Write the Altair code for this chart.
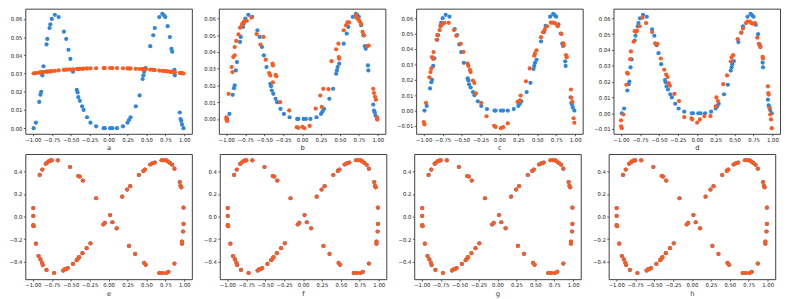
import altair as alt
import pandas as pd

# ---------------- top row (a-d) ----------------
top_x = [-0.99, -0.96, -0.917, -0.90, -0.89, -0.875, -0.86, -0.82, -0.81, -0.78,
         -0.77, -0.75, -0.71, -0.66, -0.59, -0.56, -0.53, -0.505, -0.47, -0.42,
         -0.41, -0.40, -0.38, -0.35, -0.33, -0.285, -0.24, -0.165, -0.065, -0.05,
         0.02, 0.05, 0.11, 0.19, 0.25, 0.27, 0.29, 0.36, 0.41, 0.45,
         0.46, 0.47, 0.49, 0.55, 0.59, 0.61, 0.67, 0.71, 0.73, 0.75,
         0.78, 0.81, 0.83, 0.84, 0.87, 0.875, 0.94, 0.95, 0.96, 0.97, 0.99]
top_blue = [0, 0.003, 0.0144, 0.0184, 0.020, 0.029, 0.034, 0.046, 0.049, 0.055,
            0.057, 0.060, 0.0622, 0.061, 0.053, 0.049, 0.043, 0.038, 0.031, 0.021,
            0.0196, 0.017, 0.015, 0.012, 0.010, 0.006, 0.003, 0.001, 0, 0,
            0, 0, 0, 0.001, 0.003, 0.0045, 0.006, 0.012, 0.018, 0.027,
            0.029, 0.031, 0.033, 0.045, 0.051, 0.055, 0.061, 0.0628, 0.062, 0.061,
            0.056, 0.050, 0.0435, 0.042, 0.032, 0.029, 0.0086, 0.005, 0.004, 0.002, 0]
a_orange = [0.0301, 0.0302, 0.0305, 0.0306, 0.0306, 0.0307, 0.0308, 0.0310, 0.0310, 0.0312,
            0.0312, 0.0313, 0.0315, 0.0317, 0.0320, 0.0321, 0.0322, 0.0322, 0.0323, 0.0325,
            0.0325, 0.0325, 0.0326, 0.0326, 0.0327, 0.0328, 0.0328, 0.0329, 0.0330, 0.0330,
            0.0330, 0.0330, 0.0330, 0.0329, 0.0328, 0.0328, 0.0327, 0.0326, 0.0325, 0.0324,
            0.0324, 0.0323, 0.0323, 0.0321, 0.0320, 0.0319, 0.0316, 0.0315, 0.0314, 0.0313,
            0.0312, 0.0310, 0.0309, 0.0309, 0.0307, 0.0307, 0.0303, 0.0303, 0.0302, 0.0302, 0.0300]

b_x = [-1.0, -1.0, -0.99, -0.97, -0.93, -0.92, -0.91, -0.89, -0.89, -0.87,
       -0.84, -0.82, -0.80, -0.79, -0.77, -0.745, -0.73, -0.67, -0.60, -0.55,
       -0.51, -0.48, -0.435, -0.42, -0.39, -0.385, -0.35, -0.34, -0.385, -0.29,
       -0.17, -0.07, -0.05, 0.004, 0.03, 0.10, 0.18, 0.24, 0.26, 0.28,
       0.35, 0.39, 0.45, 0.48, 0.485, 0.49, 0.55, 0.58, 0.60, 0.62,
       0.71, 0.72, 0.74, 0.76, 0.78, 0.80, 0.82, 0.86, 0.88, 0.94,
       0.95, 0.965, 0.975, 0.99, 0.995]
b_y = [0.001, -0.0004, -0.0013, 0.015, 0.031, 0.028, 0.037, 0.038, 0.043, 0.0466,
       0.0505, 0.0545, 0.0555, 0.057, 0.058, 0.0587, 0.0587, 0.0606, 0.0507, 0.0445,
       0.049, 0.0354, 0.0274, 0.026, 0.033, 0.032, 0.0263, 0.0255, 0.0218, 0.010,
       0.0051, -0.0049, -0.0053, -0.0047, -0.0055, -0.0042, 0.0062, 0.014, 0.0072, 0.018,
       0.0178, 0.0345, 0.0416, 0.045, 0.037, 0.036, 0.053, 0.056, 0.0577, 0.0577,
       0.062, 0.0605, 0.0596, 0.0583, 0.0568, 0.052, 0.050, 0.0435, 0.0439, 0.018,
       0.0155, 0.0132, 0.0114, 0.0009, -0.0004]

c_x = [-1.0, -0.99, -0.97, -0.925, -0.91, -0.90, -0.89, -0.875, -0.87, -0.83,
       -0.82, -0.79, -0.775, -0.76, -0.725, -0.67, -0.60, -0.57, -0.51, -0.475,
       -0.42, -0.41, -0.39, -0.38, -0.35, -0.33, -0.31, -0.24, -0.17, -0.07,
       -0.05, 0.02, 0.05, 0.11, 0.24, 0.27, 0.28, 0.35, 0.40, 0.46,
       0.47, 0.49, 0.55, 0.575, 0.60, 0.63, 0.68, 0.70, 0.73, 0.76,
       0.77, 0.82, 0.845, 0.85, 0.88, 0.89, 0.945, 0.95, 0.965, 0.98, 0.99]
c_y = [-0.0075, -0.009, 0.005, 0.0216, 0.025, 0.0274, 0.0347, 0.0335, 0.038, 0.046,
       0.049, 0.0523, 0.055, 0.056, 0.057, 0.057, 0.0523, 0.0486, 0.0434, 0.0382,
       0.0305, 0.029, 0.0264, 0.025, 0.0195, 0.0179, 0.0112, 0.005, -0.0037, -0.0099,
       -0.0106, -0.0114, -0.0108, -0.0083, 0.0056, 0.0066, 0.0098, 0.019, 0.0274, 0.0357,
       0.0371, 0.0392, 0.0477, 0.0509, 0.0527, 0.0548, 0.0571, 0.0571, 0.0569, 0.0558,
       0.0548, 0.0498, 0.0436, 0.0423, 0.036, 0.0347, 0.0137, 0.0083, 0.0056, -0.005, -0.0079]

d_x = [-1.0, -1.0, -0.99, -0.97, -0.93, -0.92, -0.91, -0.88, -0.87, -0.835,
       -0.82, -0.80, -0.79, -0.755, -0.715, -0.67, -0.59, -0.55, -0.52, -0.475,
       -0.43, -0.405, -0.385, -0.37, -0.355, -0.295, -0.235, -0.165, -0.07, -0.06,
       0.006, 0.04, 0.10, 0.18, 0.25, 0.26, 0.28, 0.35, 0.40, 0.45,
       0.46, 0.48, 0.54, 0.585, 0.61, 0.65, 0.67, 0.70, 0.72, 0.745,
       0.77, 0.80, 0.82, 0.84, 0.87, 0.875, 0.94, 0.945, 0.95, 0.96,
       0.97, 0.98, 0.99]
d_y = [-0.0045, -0.0082, -0.0094, -0.0008, 0.018, 0.0255, 0.025, 0.0342, 0.0391, 0.0452,
       0.0519, 0.0515, 0.0523, 0.055, 0.0604, 0.057, 0.0513, 0.0442, 0.0438, 0.0346,
       0.0275, 0.0245, 0.0229, 0.019, 0.0174, 0.0122, 0.0077, -0.0024, -0.0032, -0.0039,
       -0.0059, -0.0039, -0.0018, -0.0018, 0.0043, 0.010, 0.0077, 0.0184, 0.0239, 0.0327,
       0.0353, 0.0367, 0.0468, 0.0509, 0.0535, 0.057, 0.058, 0.058, 0.057, 0.0566,
       0.057, 0.0478, 0.0438, 0.0418, 0.0356, 0.0346, 0.017, 0.0128, 0.0118, 0.0033,
       -0.0008, -0.0039, -0.0094]

# ---------------- bottom row (e-h) ----------------
bot_x = [-0.995, -0.995, -0.995, -0.99, -0.96, -0.91, -0.925, -0.90, -0.88, -0.87,
         -0.875, -0.83, -0.81, -0.79, -0.77, -0.75, -0.82, -0.72, -0.67, -0.60,
         -0.58, -0.56, -0.54, -0.51, -0.47, -0.40, -0.38, -0.34, -0.42, -0.40,
         -0.39, -0.345, -0.29, -0.24, -0.165, -0.07, -0.05, 0.02, 0.05, 0.107,
         0.18, 0.245, 0.27, 0.285, 0.35, 0.40, 0.46, 0.48, 0.47, 0.49,
         0.55, 0.58, 0.61, 0.67, 0.70, 0.71, 0.73, 0.76, 0.79, 0.76,
         0.78, 0.81, 0.84, 0.87, 0.87, 0.94, 0.95, 0.96, 0.99, 0.99,
         0.985, 0.97, 0.97]
bot_y = [0.076, 0.006, -0.076, -0.085, -0.24, 0.37, -0.35, -0.38, -0.41, -0.43,
         0.417, 0.468, 0.48, 0.49, 0.496, 0.499, -0.473, -0.50, 0.499, -0.479,
         -0.468, -0.465, -0.456, 0.44, -0.42, 0.36, 0.355, 0.32, -0.386, -0.37,
         -0.36, -0.324, -0.28, -0.237, 0.163, -0.07, -0.056, 0.014, -0.05, -0.104,
         0.177, 0.24, -0.26, 0.27, -0.33, 0.369, 0.405, 0.417, -0.411, -0.428,
         0.462, 0.473, 0.479, -0.50, 0.50, -0.50, 0.50, -0.50, -0.49, 0.499,
         0.49, 0.476, 0.46, 0.425, -0.417, 0.307, 0.273, 0.26, 0.079, -0.065,
         -0.132, -0.222, -0.24]

BLUE = "#2f86dd"
ORANGE = "#fb5a20"
W, H = 173, 130
X_TICKS = [-1.0, -0.75, -0.5, -0.25, 0.0, 0.25, 0.5, 0.75, 1.0]
TOP_TICKS = [-0.01, 0.0, 0.01, 0.02, 0.03, 0.04, 0.05, 0.06]
BOT_TICKS = [-0.4, -0.2, 0.0, 0.2, 0.4]


def panel(label, xb, yb, xo, yo, ydom, yticks, yfmt):
    xs = alt.Scale(domain=[-1.1, 1.1], nice=False, zero=False)
    ys = alt.Scale(domain=ydom, nice=False, zero=False)
    xax = alt.Axis(values=X_TICKS, format=".2f", title=label)
    yax = alt.Axis(values=[v for v in yticks if ydom[0] <= v <= ydom[1]], format=yfmt, title=None)
    blue = alt.Chart(pd.DataFrame({"x": xb, "y": yb})).mark_circle(
        size=19, opacity=1, color=BLUE).encode(
        x=alt.X("x:Q", scale=xs, axis=xax), y=alt.Y("y:Q", scale=ys, axis=yax))
    orange = alt.Chart(pd.DataFrame({"x": xo, "y": yo})).mark_circle(
        size=19, opacity=1, color=ORANGE).encode(
        x=alt.X("x:Q", scale=xs, axis=xax), y=alt.Y("y:Q", scale=ys, axis=yax))
    return alt.layer(blue, orange).properties(width=W, height=H)


top_dom_a = [-0.0031, 0.0656]
row1 = alt.hconcat(
    panel("a", top_x, top_blue, top_x, a_orange, top_dom_a, TOP_TICKS, ".2f"),
    panel("b", top_x, top_blue, b_x, b_y, [-0.0089, 0.0659], TOP_TICKS, ".2f"),
    panel("c", top_x, top_blue, c_x, c_y, [-0.0151, 0.0662], TOP_TICKS, ".2f"),
    panel("d", top_x, top_blue, d_x, d_y, [-0.013, 0.0661], TOP_TICKS, ".2f"),
    spacing=10,
)
bdom = [-0.555, 0.555]
row2 = alt.hconcat(
    *[panel(l, bot_x, bot_y, bot_x, bot_y, bdom, BOT_TICKS, ".1f") for l in "efgh"],
    spacing=10,
)

chart = alt.vconcat(row1, row2, spacing=2).properties(
    padding={"top": -6, "left": 0, "right": 0, "bottom": 0}
).configure_view(
    stroke="#3a3a3a", strokeWidth=1
).configure_axis(
    domain=False, grid=False, tickSize=2, tickColor="#333", tickWidth=0.8,
    labelFont="DejaVu Sans", labelFontSize=5.5, labelColor="#222", labelPadding=1.5,
    titleFont="DejaVu Sans", titleFontSize=7, titleFontWeight="normal",
    titleColor="#333", titlePadding=1.5,
).configure_axisY(minExtent=14, maxExtent=14)

chart.save("out.html", embed_options={"renderer": "svg", "actions": False})
